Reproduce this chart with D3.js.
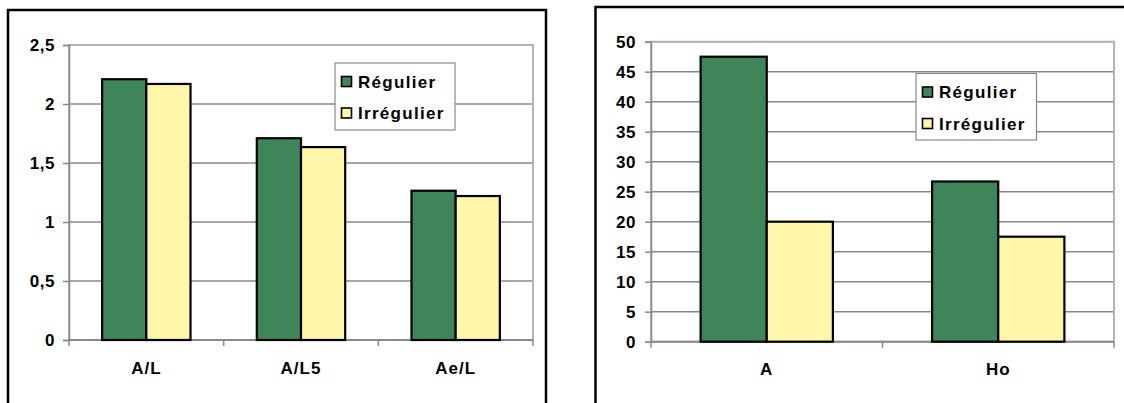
<!DOCTYPE html>
<html><head><meta charset="utf-8">
<script src="https://cdn.jsdelivr.net/npm/d3@7"></script>
<style>
body{margin:0;background:#fff}
svg{display:block}
text{font-family:"Liberation Sans",Arial,sans-serif;font-weight:bold;fill:#000}
</style></head>
<body><svg id="c" width="1124" height="403"></svg>
<script>
const seriesNames = ["Régulier", "Irrégulier"];
const seriesColors = ["#3e865a", "#fff6a8"];

const leftCategories = ["A/L", "A/L5", "Ae/L"];
const leftRegulier = [2.21, 1.71, 1.265];
const leftIrregulier = [2.17, 1.635, 1.22];
const leftTicks = [0, 0.5, 1, 1.5, 2, 2.5];

const rightCategories = ["A", "Ho"];
const rightRegulier = [47.5, 26.7];
const rightIrregulier = [20, 17.5];
const rightTicks = [0, 5, 10, 15, 20, 25, 30, 35, 40, 45, 50];

const svg = d3.select("#c");
const fmt = d => String(d).replace(".", ",");

function panel(cfg) {
  const g = svg.append("g");
  g.append("rect").attr("x", cfg.frame[0]).attr("y", cfg.frame[1])
    .attr("width", cfg.frame[2]).attr("height", cfg.frame[3])
    .attr("fill", "#fff").attr("stroke", "#000").attr("stroke-width", 2.5);

  const [px0, py0, px1, py1] = cfg.plot;
  const y = d3.scaleLinear().domain([0, d3.max(cfg.ticks)]).range([py1, py0]);
  const x0 = d3.scaleBand().domain(cfg.categories).range([px0, px1]).padding(0);
  const bw = x0.bandwidth();
  const gap = bw * 0.75 / 3.5;
  const x1 = d3.scaleBand().domain(seriesNames).range([gap, bw - gap]).padding(0);

  g.selectAll(".grid").data(cfg.ticks.filter(t => t > 0)).join("line")
    .attr("x1", px0).attr("x2", px1)
    .attr("y1", d => y(d)).attr("y2", d => y(d))
    .attr("stroke", "#8c8888").attr("stroke-width", 1.5);
  g.append("rect").attr("x", px0).attr("y", py0).attr("width", px1 - px0).attr("height", py1 - py0)
    .attr("fill", "none").attr("stroke", "#b8b3b3").attr("stroke-width", 2);

  const ya = d3.axisLeft(y).tickValues(cfg.ticks).tickFormat(fmt).tickSize(6).tickPadding(cfg.tickPad);
  const yg = g.append("g").attr("transform", `translate(${px0},0)`).call(ya);
  yg.select(".domain").attr("stroke", "#8c8888").attr("stroke-width", 1.5);
  yg.selectAll(".tick line").attr("stroke", "#8c8888").attr("stroke-width", 1.5);
  yg.selectAll(".tick text").style("font-size", "17px").style("font-family", '"Liberation Sans",Arial,sans-serif')
    .style("font-weight", "bold").attr("fill", "#000").style("letter-spacing", "0.5px");

  const boundaries = cfg.categories.map(c => x0(c)).concat([px1]);
  g.append("line").attr("x1", px0).attr("x2", px1).attr("y1", py1).attr("y2", py1)
    .attr("stroke", "#8c8888").attr("stroke-width", 2);
  g.selectAll(".xt").data(boundaries).join("line")
    .attr("x1", d => d).attr("x2", d => d).attr("y1", py1).attr("y2", py1 + 6)
    .attr("stroke", "#8c8888").attr("stroke-width", 1.5);
  g.selectAll(".xl").data(cfg.categories).join("text")
    .attr("x", d => x0(d) + bw / 2).attr("y", cfg.catY)
    .attr("text-anchor", "middle").style("font-size", "17px").style("letter-spacing", "1px")
    .text(d => d);

  const rows = cfg.categories.map((c, i) => ({c, vals: [cfg.s1[i], cfg.s2[i]]}));
  rows.forEach(r => {
    r.vals.forEach((v, j) => {
      g.append("rect")
        .attr("x", x0(r.c) + x1(seriesNames[j]))
        .attr("y", y(v)).attr("width", x1.bandwidth()).attr("height", y(0) - y(v))
        .attr("fill", seriesColors[j]).attr("stroke", "#000").attr("stroke-width", 2.2);
    });
  });

  const [lx, ly, lw, lh] = cfg.legend;
  g.append("rect").attr("x", lx).attr("y", ly).attr("width", lw).attr("height", lh)
    .attr("fill", "#fff").attr("stroke", "#8c8888").attr("stroke-width", 1.2);
  seriesNames.forEach((n, j) => {
    const cy = ly + 18.5 + j * 31.5;
    g.append("rect").attr("x", lx + 6.5).attr("y", cy - 5).attr("width", 10).attr("height", 10)
      .attr("fill", seriesColors[j]).attr("stroke", "#000").attr("stroke-width", 1.6);
    g.append("text").attr("x", lx + 23).attr("y", cy + 6)
      .style("font-size", "17px").style("letter-spacing", "1.3px").text(n);
  });
}

panel({
  frame: [8, 10, 538, 420],
  plot: [69, 45, 533, 340],
  ticks: leftTicks, categories: leftCategories,
  s1: leftRegulier, s2: leftIrregulier,
  tickPad: 8, catY: 374,
  legend: [335, 63, 120, 67]
});
panel({
  frame: [595.5, 7, 560, 420],
  plot: [651, 41.7, 1114, 341.7],
  ticks: rightTicks, categories: rightCategories,
  s1: rightRegulier, s2: rightIrregulier,
  tickPad: 9, catY: 375,
  legend: [916, 73.5, 120.5, 66.5]
});
</script></body></html>
